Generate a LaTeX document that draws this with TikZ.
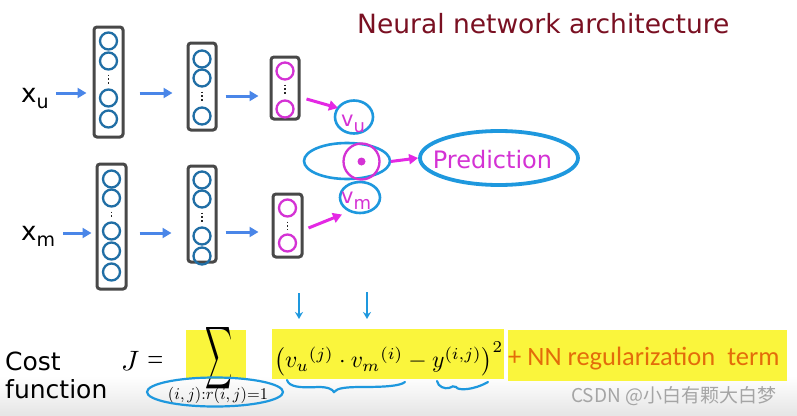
\documentclass[tikz,border=0pt]{standalone}
\usepackage{fontspec}
\usepackage{graphicx}
\usetikzlibrary{shapes.geometric,arrows.meta}
\newfontfamily\dv{DejaVu Sans}
\newfontfamily\carl{Carlito}
\newfontfamily\cjk{Noto Sans CJK SC}
\definecolor{cblue}{RGB}{32,110,165}
\definecolor{abl}{RGB}{74,134,232}
\definecolor{mag}{RGB}{228,40,228}
\definecolor{magt}{RGB}{212,50,212}
\definecolor{hblue}{RGB}{30,152,222}
\definecolor{hyel}{RGB}{250,245,60}
\definecolor{orng}{RGB}{227,108,10}
\definecolor{ttl}{RGB}{122,16,34}
\definecolor{bgray}{RGB}{72,72,72}
\definecolor{wm}{RGB}{165,165,165}
\tikzset{
  layerbox/.style={draw=bgray,line width=3pt,rounded corners=3pt,inner sep=0pt,minimum width=29pt},
  ucirc/.style={circle,draw=cblue,line width=2.3pt,minimum size=17pt,inner sep=0pt},
  mcirc/.style={circle,draw=magt,line width=2.3pt,minimum size=17pt,inner sep=0pt},
  dotline/.style={draw=black!85,line width=1.8pt,dash pattern=on 1.6pt off 2.2pt,shorten <=4pt,shorten >=4pt},
  barrow/.style={draw=abl,line width=3pt,-{Triangle[length=9pt,width=10pt]}},
  marrow/.style={draw=mag,line width=3pt,-{Triangle[length=9pt,width=10pt]}},
  hand/.style={draw=hblue,line width=2.2pt},
  handell/.style={ellipse,draw=hblue,line width=2.6pt,inner sep=0pt},
  yelbox/.style={fill=hyel,draw=none},
  lab/.style={font=\dv\fontsize{25}{28}\selectfont,inner sep=0pt},
}
\begin{document}
\begin{tikzpicture}[x=1pt,y=-1pt]
\useasboundingbox (0,0) rectangle (797,415);
\fill[white] (0,0) rectangle (797,415);
\shade[top color=white,bottom color=black!10] (0,376) rectangle (797,415);

% title
\node[anchor=base west,inner sep=0pt,text=ttl,font=\dv\fontsize{26.5}{30}\selectfont] (title) at (357,33) {Neural network architecture};

% input labels
\node[anchor=base west,inner sep=0pt,font=\dv\fontsize{26}{28}\selectfont] (xu) at (21,102) {x\raisebox{-6pt}{\fontsize{19}{22}\selectfont u}};
\node[anchor=base west,inner sep=0pt,font=\dv\fontsize{26}{28}\selectfont] (xm) at (21,240) {x\raisebox{-6pt}{\fontsize{19}{22}\selectfont m}};

% top row boxes
\node[layerbox,minimum height=110pt] (b1) at (108.5,82) {};
\foreach \yy [count=\i] in {41,61,98,119} \node[ucirc] (b1n\i) at (108.5,\yy) {};
\draw[dotline] (b1n2) -- (b1n3);
\node[layerbox,minimum height=87pt,minimum width=28pt] (b2) at (202,86.5) {};
\foreach \yy [count=\i] in {59,78,116} \node[ucirc] (b2n\i) at (202,\yy) {};
\draw[dotline] (b2n2) -- (b2n3);
\node[layerbox,minimum height=62pt,minimum width=28pt] (b3) at (285,88) {};
\foreach \yy [count=\i] in {71,109} \node[mcirc] (b3n\i) at (285,\yy) {};
\draw[dotline] (b3n1) -- (b3n2);

% bottom row boxes
\node[layerbox,minimum height=125pt] (c1) at (111.5,226.5) {};
\foreach \yy [count=\i] in {179,198,231,251,272} \node[ucirc] (c1n\i) at (111.5,\yy) {};
\draw[dotline] (c1n2) -- (c1n3);
\node[layerbox,minimum height=96pt,minimum width=28pt] (c2) at (202,214) {};
\foreach \yy [count=\i] in {180,199,236,256} \node[ucirc] (c2n\i) at (202,\yy) {};
\draw[dotline] (c2n2) -- (c2n3);
\node[layerbox,minimum height=63pt] (c3) at (287.5,225.5) {};
\foreach \yy [count=\i] in {208,243} \node[mcirc] (c3n\i) at (287.5,\yy) {};
\draw[dotline] (c3n1) -- (c3n2);

% row lines
\coordinate (r1) at (0,93);
\coordinate (r2) at (0,96);
\coordinate (s1) at (0,233);
\coordinate (s2) at (0,232);

\draw[barrow,shorten <=7pt,shorten >=6pt] (xu.east |- r1) -- (b1.west |- r1);
\draw[barrow,shorten <=15pt,shorten >=14pt] (b1.east |- r1) -- (b2.west |- r1);
\draw[barrow,shorten <=8pt,shorten >=11pt] (b2.east |- r2) -- (b3.west |- r2);
\draw[barrow,shorten <=8pt,shorten >=4pt] (xm.east |- s1) -- (c1.west |- s1);
\draw[barrow,shorten <=12pt,shorten >=15pt] (c1.east |- s1) -- (c2.west |- s1);
\draw[barrow,shorten <=8pt,shorten >=13pt] (c2.east |- s2) -- (c3.west |- s2);

% v_u, v_m, product
\node[handell,minimum width=38pt,minimum height=33pt] (vu) at (354,117) {};
\node[anchor=base west,inner sep=0pt,text=magt,font=\dv\fontsize{21}{24}\selectfont] (vut) at (341,126) {v\raisebox{-6pt}{\fontsize{18}{22}\selectfont u}};
\node[handell,minimum width=40pt,minimum height=31pt] (vm) at (360,197.5) {};
\node[anchor=base west,inner sep=0pt,text=magt,font=\dv\fontsize{21}{24}\selectfont] (vmt) at (341,203) {v\raisebox{-6pt}{\fontsize{18}{22}\selectfont m}};
\node[handell,minimum width=86pt,minimum height=36pt] (midell) at (347,161) {};
\node[circle,draw=magt,line width=2.3pt,minimum size=36pt,inner sep=0pt] (dotc) at (361.5,161.5) {};
\node[circle,fill=magt,minimum size=8pt,inner sep=0pt] (dotin) at (dotc.center) {};

\node[handell,line width=3.8pt,minimum width=158pt,minimum height=54pt] (pred) at (499,158) {};
\node[inner sep=0pt,text=magt,font=\dv\fontsize{24}{28}\selectfont] (predt) at (492.5,160) {Prediction};

\draw[marrow] ([shift={(6,11)}]b3.east) -- ([shift={(-16,-9)}]vu.center);
\draw[marrow] ([shift={(5,2.5)}]c3.east) -- ([shift={(-18,17)}]vm.center);
\draw[marrow] ([xshift=10pt]dotc.east) -- (pred.west);

% cost function
\node[anchor=base west,lab] (cost) at (5,370) {Cost};
\node[anchor=base west,lab] (func) at (5,398) {function};
\node[anchor=base west,inner sep=0pt] (jeq) at (121,370) {\scalebox{2.8}{$J$}\hspace{8pt}\raisebox{3pt}{\scalebox{2.05}[3.0]{$=$}}};

\fill[yelbox] (186,330) rectangle (246,379);
\fill[yelbox] (272,329) rectangle (504,379);
\fill[yelbox] (508,330) rectangle (787,381);

\node[inner sep=0pt] (sig) at (218.5,358) {\resizebox{27pt}{46pt}{$\displaystyle\sum$}};
\node[inner sep=0pt] (sub) at (218,395) {\resizebox{100pt}{!}{$(i,j){:}r(i,j){=}1$}};
\node[handell,line width=2.2pt,minimum width=136pt,minimum height=29pt] (subell) at (215,392) {};

\node[inner sep=0pt,anchor=west] (form) at (274,359) {\resizebox{229pt}{!}{$\left({v_u}^{(j)}\cdot {v_m}^{(i)} - y^{(i,j)}\right)^2$}};
\node[anchor=base west,inner sep=0pt,text=orng,font=\carl\fontsize{26.5}{30}\selectfont] (reg) at (508,365) {+ NN regularization\ \ term};

% hand annotations
\coordinate (d1s) at (299,293); \coordinate (d1e) at (299,319);
\coordinate (d2s) at (367,292); \coordinate (d2e) at (367,319);
\draw[hand,-{Stealth[length=7pt,width=8pt]}] (d1s) -- (d1e);
\draw[hand,-{Stealth[length=7pt,width=8pt]}] (d2s) -- (d2e);
\draw[hand,line cap=round] (287,380) .. controls (289,387) and (300,388) .. (318,387) .. controls (328,387) and (332,389) .. (334,392) .. controls (337,388) and (346,387) .. (362,387) .. controls (385,387) and (400,386) .. (405,382);
\draw[hand,line cap=round] (437,381) .. controls (438,387) and (445,389) .. (449,388) .. controls (452,387) and (454,385) .. (456,387) .. controls (458,391) and (474,390) .. (488,382);

% watermark
\node[anchor=base west,inner sep=0pt,text=wm,font=\cjk\fontsize{19}{22}\selectfont] (wmk) at (571,402) {CSDN @小白有颗大白梦};
\end{tikzpicture}
\end{document}
